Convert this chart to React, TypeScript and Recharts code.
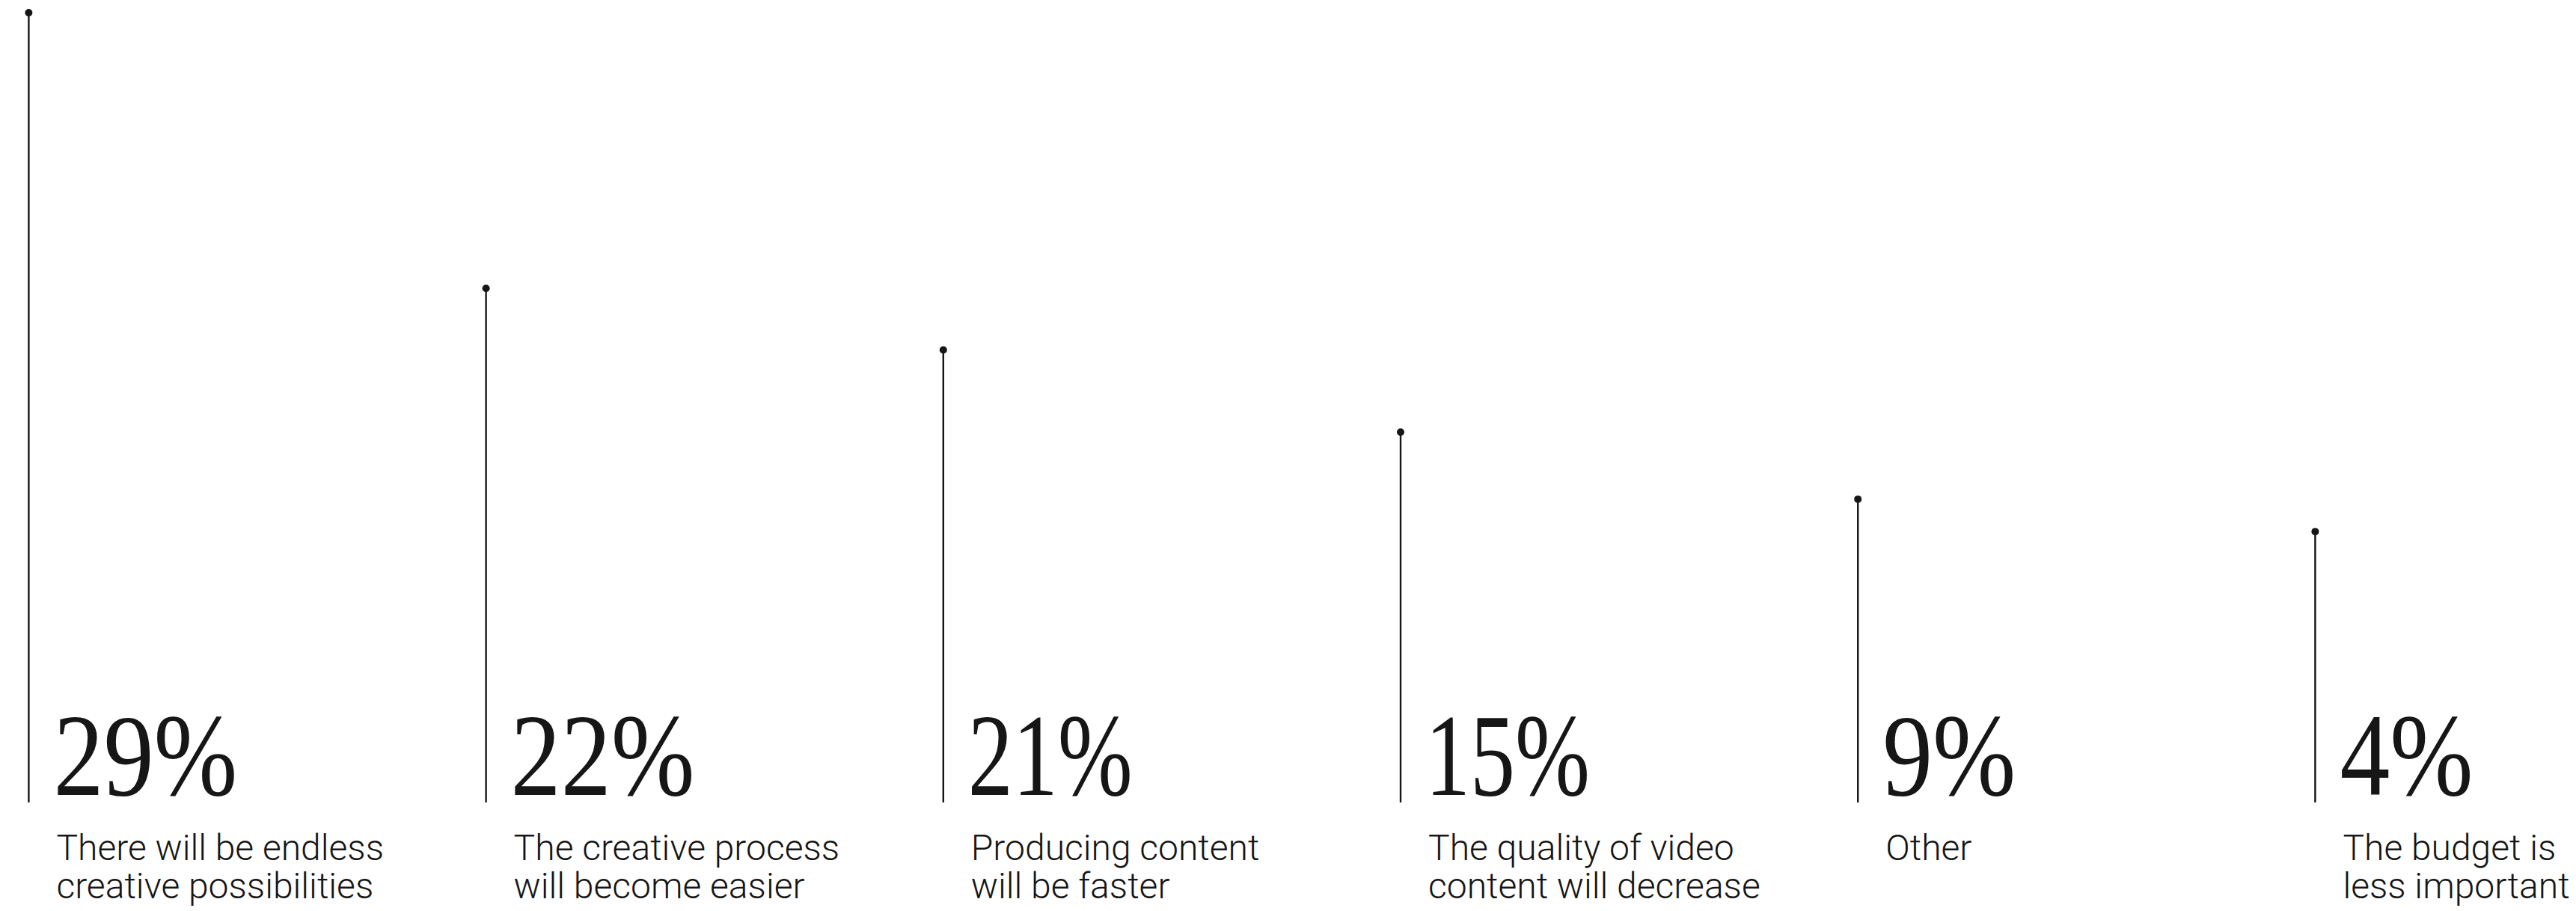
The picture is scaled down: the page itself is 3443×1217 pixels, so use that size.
import React from 'react';
import { BarChart, Bar, XAxis, YAxis } from 'recharts';

// Category labels (two lines each, as in the source)
const categoryLines: string[][] = [
  ['There will be endless', 'creative possibilities'],
  ['The creative process', 'will become easier'],
  ['Producing content', 'will be faster'],
  ['The quality of video', 'content will decrease'],
  ['Other'],
  ['The budget is', 'less important'],
];

// Shown percentages
const percentValues: number[] = [29, 22, 21, 15, 9, 4];

// Stem heights as drawn (relative to tallest stem = 100)
const stemLevels: number[] = [100, 65.1, 57.3, 46.9, 38.4, 34.3];

// Horizontal positions of the stems
const positions: number[] = [0, 1, 2, 3, 4, 5];

const data = positions.map((p, i) => ({
  idx: p,
  stem: stemLevels[i],
  pct: percentValues[i],
  lines: categoryLines[i],
}));

const INK = '#161616';
const W = 3443;
const H = 1217;

// Approximate advance widths of the narrow display serif used for the figures
const GLYPH_ADV: Record<string, number> = { '1': 42, '%': 110 };
const DIGIT_ADV = 68;
const figureWidth = (s: string) =>
  s.split('').reduce((acc, c) => acc + (GLYPH_ADV[c] ?? DIGIT_ADV), 0);

const Stem = (props: any) => {
  const { x, y, width, height, payload } = props;
  const cx = x + width / 2;
  const base = y + height;
  const label = `${payload.pct}%`;
  return (
    <g>
      <line x1={cx} x2={cx} y1={y} y2={base} stroke={INK} strokeWidth={2.4} />
      <circle cx={cx} cy={y} r={5} fill={INK} />
      <text
        x={cx + 33}
        y={base - 10}
        fontFamily="'Liberation Serif', 'Times New Roman', serif"
        fontSize={156}
        textLength={figureWidth(label)}
        lengthAdjust="spacingAndGlyphs"
        fill={INK}
      >
        {label}
      </text>
      <text
        x={cx + 37}
        y={base + 77}
        fontFamily="Roboto, 'Liberation Sans', sans-serif"
        fontWeight={300}
        fontSize={48}
        fill={INK}
      >
        {payload.lines.map((l: string, k: number) => (
          <tspan key={k} x={cx + 37} dy={k === 0 ? 0 : 51}>
            {l}
          </tspan>
        ))}
      </text>
    </g>
  );
};

export default function App() {
  return (
    <div style={{ position: 'absolute', left: 0, top: 0, width: W, height: H, background: '#fff' }}>
      <BarChart
        width={W}
        height={H}
        data={data}
        margin={{ top: 17, right: 349, bottom: 145, left: 38 }}
      >
        <XAxis type="number" dataKey="idx" domain={[0, 5]} ticks={positions} hide />
        <YAxis type="number" domain={[0, 100]} hide />
        <Bar dataKey="stem" barSize={10} shape={<Stem />} isAnimationActive={false} />
      </BarChart>
    </div>
  );
}
